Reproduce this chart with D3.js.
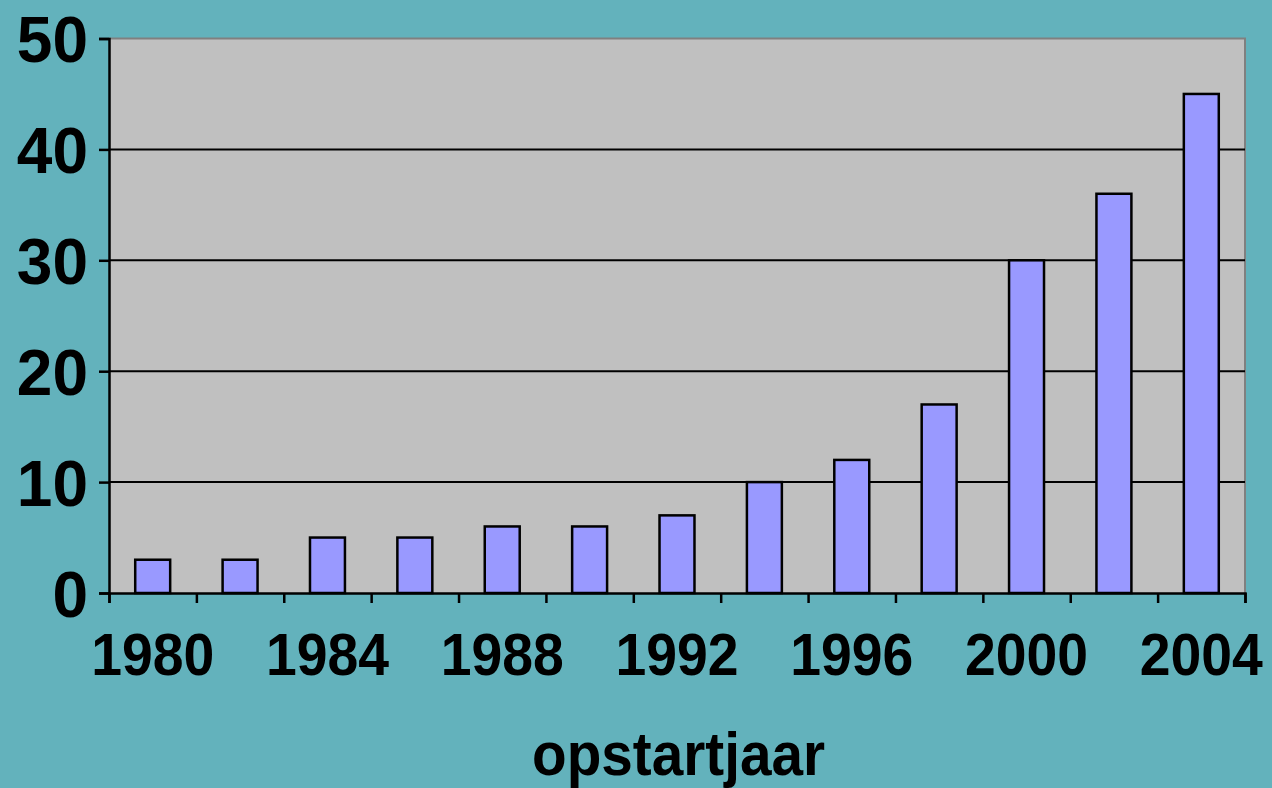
<!DOCTYPE html>
<html>
<head>
<meta charset="utf-8">
<script src="https://cdn.jsdelivr.net/npm/d3@7"></script>
<style>
  html, body { margin: 0; padding: 0; background: #63B2BC; }
  svg { display: block; }
  text { font-family: "Liberation Sans", Arial, sans-serif; font-weight: bold; fill: #000; }
</style>
</head>
<body>
<svg width="1272" height="788"></svg>
<script>
const years = [1980, 1982, 1984, 1986, 1988, 1990, 1992, 1994, 1996, 1998, 2000, 2002, 2004];
const counts = [3, 3, 5, 5, 6, 6, 7, 10, 12, 17, 30, 36, 45];
const yTicks = [0, 10, 20, 30, 40, 50];
const xLabelYears = [1980, 1984, 1988, 1992, 1996, 2000, 2004];
const xTitle = "opstartjaar";

const svg = d3.select("svg");
const plotLeft = 109, plotRight = 1245, plotTop = 38.5, plotBottom = 593;

const x = d3.scaleBand()
    .domain(years)
    .range([plotLeft, plotRight])
    .paddingInner(0.6)
    .paddingOuter(0.3);

// boundaries between the categories, for the tick marks
const xEdge = d3.scaleLinear().domain([0, years.length]).range([plotLeft, plotRight]);

const y = d3.scaleLinear().domain([0, 50]).range([plotBottom, plotTop]);

// plot background
svg.append("rect")
    .attr("x", plotLeft).attr("y", plotTop)
    .attr("width", plotRight - plotLeft).attr("height", plotBottom - plotTop)
    .attr("fill", "#C0C0C0");

// grey frame top and right
svg.append("path")
    .attr("d", `M${plotLeft},${plotTop}H${plotRight}V${plotBottom}`)
    .attr("fill", "none")
    .attr("stroke", "#808080")
    .attr("stroke-width", 2);

// gridlines
svg.selectAll(".grid")
    .data(yTicks.filter(d => d > 0 && d < 50))
    .enter().append("line")
    .attr("class", "grid")
    .attr("x1", plotLeft).attr("x2", plotRight)
    .attr("y1", d => y(d)).attr("y2", d => y(d))
    .attr("stroke", "#000")
    .attr("stroke-width", 2);

// bars
svg.selectAll(".bar")
    .data(years)
    .enter().append("rect")
    .attr("class", "bar")
    .attr("x", d => x(d))
    .attr("width", x.bandwidth())
    .attr("y", (d, i) => y(counts[i]))
    .attr("height", (d, i) => plotBottom - y(counts[i]))
    .attr("fill", "#9999FF")
    .attr("stroke", "#000")
    .attr("stroke-width", 2.5);

// y axis
const yAxis = svg.append("g")
    .attr("transform", `translate(${plotLeft},0)`)
    .call(d3.axisLeft(y).tickValues(yTicks).tickSize(10).tickPadding(11).tickFormat(d3.format("d")));
yAxis.select(".domain").attr("stroke", "#000").attr("stroke-width", 2.5);
yAxis.selectAll(".tick line").attr("stroke", "#000").attr("stroke-width", 2.5);
yAxis.selectAll(".tick text")
    .attr("font-size", 64)
    .attr("dy", "0.36em")
    .style("font-family", "'Liberation Sans', Arial, sans-serif")
    .style("font-weight", "bold");

// x axis: tick marks on category edges
const xTicks = svg.append("g")
    .attr("transform", `translate(0,${plotBottom})`)
    .call(d3.axisBottom(xEdge).tickValues(d3.range(years.length + 1)).tickSize(10).tickFormat(""));
xTicks.select(".domain").attr("stroke", "#000").attr("stroke-width", 2.5);
xTicks.selectAll(".tick line").attr("stroke", "#000").attr("stroke-width", 2.5);

// x labels, every other year
svg.selectAll(".xlabel")
    .data(xLabelYears)
    .enter().append("text")
    .attr("class", "xlabel")
    .attr("x", d => x(d) + x.bandwidth() / 2)
    .attr("y", 675)
    .attr("text-anchor", "middle")
    .attr("font-size", 60)
    .attr("textLength", 123)
    .attr("lengthAdjust", "spacingAndGlyphs")
    .text(d => d);

// axis title
svg.append("text")
    .attr("x", (532 + 825) / 2)
    .attr("y", 775)
    .attr("text-anchor", "middle")
    .attr("font-size", 62)
    .attr("textLength", 293)
    .attr("lengthAdjust", "spacingAndGlyphs")
    .text(xTitle);
</script>
</body>
</html>
